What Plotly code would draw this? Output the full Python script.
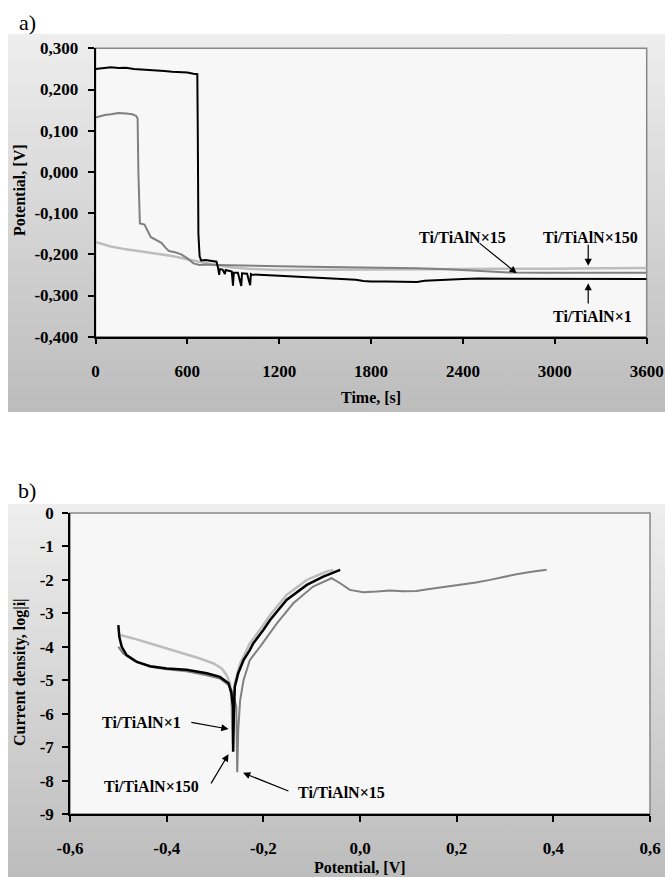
import base64
import plotly.graph_objects as go

# ---------------- Panel a: open circuit potential vs time ----------------
t_x1 = [0, 20, 60, 100, 150, 200, 250, 300, 350, 400, 450, 500, 550, 600, 640, 665,
        668, 672, 680, 690, 720, 760, 790, 800, 808, 812, 830, 845, 850, 870, 890, 898,
        903, 930, 952, 957, 962, 990, 1010, 1015, 1020, 1050, 1100, 1200, 1300, 1400,
        1500, 1600, 1700, 1750, 1800, 1900, 2000, 2100, 2150, 2200, 2300, 2400, 2500,
        2600, 2800, 3000, 3200, 3400, 3600]
e_x1 = [0.250, 0.251, 0.253, 0.254, 0.252, 0.253, 0.250, 0.249, 0.247, 0.246, 0.245,
        0.243, 0.242, 0.241, 0.238, 0.237, 0.100, -0.150, -0.205, -0.215, -0.214,
        -0.216, -0.218, -0.232, -0.250, -0.236, -0.237, -0.248, -0.238, -0.240, -0.242,
        -0.276, -0.245, -0.245, -0.277, -0.246, -0.246, -0.247, -0.275, -0.248, -0.249,
        -0.249, -0.250, -0.252, -0.254, -0.256, -0.258, -0.260, -0.262, -0.265, -0.266,
        -0.266, -0.266, -0.267, -0.264, -0.263, -0.262, -0.260, -0.259, -0.259, -0.259,
        -0.259, -0.259, -0.260, -0.260]

t_x15 = [0, 30, 60, 100, 150, 200, 240, 265, 275, 280, 285, 290, 320, 335, 350, 360,
         400, 430, 460, 480, 520, 560, 600, 640, 680, 720, 800, 1000, 1200, 1400, 1600,
         1900, 2100, 2300, 2500, 2700, 2900, 3200, 3600]
e_x15 = [0.132, 0.135, 0.138, 0.140, 0.143, 0.142, 0.140, 0.136, 0.130, 0.000, -0.080,
         -0.125, -0.128, -0.141, -0.150, -0.158, -0.165, -0.172, -0.185, -0.192, -0.195,
         -0.200, -0.210, -0.222, -0.226, -0.225, -0.226, -0.228, -0.229, -0.230, -0.231,
         -0.232, -0.234, -0.236, -0.240, -0.244, -0.245, -0.245, -0.245]

t_x150 = [0, 50, 100, 200, 300, 400, 500, 600, 700, 800, 900, 1000, 1200, 1500, 1800,
          2100, 2400, 2700, 3000, 3300, 3600]
e_x150 = [-0.170, -0.176, -0.181, -0.188, -0.193, -0.198, -0.204, -0.212, -0.220,
          -0.227, -0.232, -0.235, -0.238, -0.238, -0.237, -0.236, -0.236, -0.235,
          -0.235, -0.234, -0.233]

a_xticks = [0, 600, 1200, 1800, 2400, 3000, 3600]
a_xticktext = ["0", "600", "1200", "1800", "2400", "3000", "3600"]
a_yticks = [0.3, 0.2, 0.1, 0.0, -0.1, -0.2, -0.3, -0.4]
a_yticktext = ["0,300", "0,200", "0,100", "0,000", "-0,100", "-0,200", "-0,300", "-0,400"]

# ---------------- Panel b: polarisation curves ----------------
v_x1 = [-0.500, -0.498, -0.493, -0.483, -0.462, -0.434, -0.400, -0.359, -0.317, -0.290,
        -0.272, -0.266, -0.263, -0.2625, -0.2625, -0.261, -0.259, -0.252, -0.241,
        -0.228, -0.221, -0.200, -0.186, -0.152, -0.110, -0.076, -0.041]
l_x1 = [-3.35, -3.70, -4.00, -4.25, -4.45, -4.58, -4.65, -4.69, -4.79, -4.90, -5.09,
        -5.39, -5.79, -6.50, -7.14, -6.00, -5.19, -4.79, -4.40, -4.10, -3.90, -3.50,
        -3.20, -2.60, -2.15, -1.90, -1.70]

v_x15 = [-0.500, -0.490, -0.469, -0.434, -0.400, -0.359, -0.317, -0.290, -0.272,
         -0.262, -0.256, -0.255, -0.254, -0.252, -0.250, -0.248, -0.241, -0.235,
         -0.228, -0.207, -0.172, -0.138, -0.097, -0.059, -0.041, -0.021, 0.007, 0.035,
         0.062, 0.090, 0.117, 0.140, 0.166, 0.190, 0.214, 0.240, 0.269, 0.300, 0.324,
         0.355, 0.386]
l_x15 = [-4.00, -4.20, -4.40, -4.60, -4.67, -4.73, -4.85, -4.95, -5.14, -5.40, -5.80,
         -6.50, -7.75, -6.50, -5.80, -5.60, -5.00, -4.69, -4.40, -4.00, -3.30, -2.70,
         -2.20, -1.95, -2.10, -2.30, -2.37, -2.35, -2.32, -2.34, -2.33, -2.28, -2.23,
         -2.19, -2.15, -2.08, -2.00, -1.90, -1.83, -1.76, -1.70]

v_x150 = [-0.497, -0.469, -0.434, -0.400, -0.366, -0.331, -0.303, -0.286, -0.276,
          -0.269, -0.266, -0.2635, -0.2630, -0.2625, -0.262, -0.259, -0.253, -0.248,
          -0.238, -0.228, -0.200, -0.186, -0.166, -0.152, -0.110, -0.069, -0.055]
l_x150 = [-3.65, -3.75, -3.90, -4.05, -4.20, -4.35, -4.50, -4.65, -4.85, -5.09, -5.60,
          -6.50, -6.90, -6.00, -5.50, -5.09, -4.75, -4.50, -4.20, -3.90, -3.35, -3.05,
          -2.70, -2.45, -2.00, -1.75, -1.70]

b_xticks = [-0.6, -0.4, -0.2, 0.0, 0.2, 0.4, 0.6]
b_xticktext = ["-0,6", "-0,4", "-0,2", "0,0", "0,2", "0,4", "0,6"]
b_yticks = [0, -1, -2, -3, -4, -5, -6, -7, -8, -9]
b_yticktext = ["0", "-1", "-2", "-3", "-4", "-5", "-6", "-7", "-8", "-9"]

labels = ["Ti/TiAlN×1", "Ti/TiAlN×15", "Ti/TiAlN×150"]

BLACK = "#000000"
MID = "#808080"
LIGHT = "#bdbdbd"
FONT = "Liberation Serif, Times New Roman, serif"

fig = go.Figure()

fig.add_trace(go.Scatter(x=t_x150, y=e_x150, mode="lines", line=dict(color=LIGHT, width=2.5),
                         xaxis="x", yaxis="y", name=labels[2]))
fig.add_trace(go.Scatter(x=t_x15, y=e_x15, mode="lines", line=dict(color=MID, width=2),
                         xaxis="x", yaxis="y", name=labels[1]))
fig.add_trace(go.Scatter(x=t_x1, y=e_x1, mode="lines", line=dict(color=BLACK, width=2),
                         xaxis="x", yaxis="y", name=labels[0]))

fig.add_trace(go.Scatter(x=v_x150, y=l_x150, mode="lines", line=dict(color=LIGHT, width=2.5),
                         xaxis="x2", yaxis="y2", name=labels[2]))
fig.add_trace(go.Scatter(x=v_x15, y=l_x15, mode="lines", line=dict(color=MID, width=2),
                         xaxis="x2", yaxis="y2", name=labels[1]))
fig.add_trace(go.Scatter(x=v_x1, y=l_x1, mode="lines", line=dict(color=BLACK, width=2.5),
                         xaxis="x2", yaxis="y2", name=labels[0]))

W, H = 665, 877


def px(xp):
    return xp / W


def py(yp):
    return 1 - yp / H


tickfont = dict(family=FONT, size=17, color="black", weight="bold")
axis_common = dict(showgrid=False, zeroline=False, showline=True, linecolor="black",
                   linewidth=1.5, ticks="outside", ticklen=6, tickwidth=1.5,
                   tickcolor="black", tickfont=tickfont, automargin=False)

fig.update_layout(
    width=W, height=H, autosize=False,
    margin=dict(l=0, r=0, t=0, b=0, pad=0, autoexpand=False),
    paper_bgcolor="white", plot_bgcolor="rgba(0,0,0,0)",
    showlegend=False,
    xaxis=dict(domain=[px(95.5), px(646.7)], range=[0, 3600], tickvals=a_xticks,
               ticktext=a_xticktext, anchor="y", ticklabelstandoff=12, **axis_common),
    yaxis=dict(domain=[py(336.7), py(48.3)], range=[-0.4, 0.3], tickvals=a_yticks,
               ticktext=a_yticktext, anchor="x", ticklabelstandoff=6, **axis_common),
    xaxis2=dict(domain=[px(70), px(650)], range=[-0.6, 0.6], tickvals=b_xticks,
                ticktext=b_xticktext, anchor="y2", ticklabelstandoff=12, **axis_common),
    yaxis2=dict(domain=[py(814), py(513)], range=[-9, 0], tickvals=b_yticks,
                ticktext=b_yticktext, anchor="x2", ticklabelstandoff=5, **axis_common),
)

svg = ('<svg xmlns="http://www.w3.org/2000/svg" width="100" height="100" '
       'viewBox="0 0 100 100" preserveAspectRatio="none">'
       '<defs><linearGradient id="g" x1="0" y1="0" x2="0" y2="1">'
       '<stop offset="0" stop-color="#eeeeee"/><stop offset="1" stop-color="#bcbcbc"/>'
       '</linearGradient></defs><rect width="100" height="100" fill="url(#g)"/></svg>')
src = "data:image/svg+xml;base64," + base64.b64encode(svg.encode()).decode()
for top, bottom in [(34, 412), (504, 877)]:
    fig.add_layout_image(dict(source=src, xref="paper", yref="paper", x=px(8), y=py(top),
                              sizex=1 - px(8), sizey=(bottom - top) / H, xanchor="left",
                              yanchor="top", sizing="stretch", layer="below"))

for xr, yr in [("x", "y"), ("x2", "y2")]:
    fig.add_shape(type="rect", xref=xr + " domain", yref=yr + " domain", x0=0, x1=1, y0=0, y1=1,
                  fillcolor="#f7f7f7", line=dict(color="#888888", width=1.5), layer="below")

title_font = dict(family=FONT, size=16, color="black")
lab_font = dict(family=FONT, size=16, color="black")

fig.add_annotation(text="<b>Time, [s]</b>", xref="paper", yref="paper", x=px(371), y=py(397),
                   showarrow=False, font=title_font, xanchor="center", yanchor="middle")
fig.add_annotation(text="<b>Potential, [V]</b>", xref="paper", yref="paper", x=px(19), y=py(190),
                   showarrow=False, font=title_font, textangle=-90, xanchor="center", yanchor="middle")
fig.add_annotation(text="<b>Potential, [V]</b>", xref="paper", yref="paper", x=px(360), y=py(867),
                   showarrow=False, font=title_font, xanchor="center", yanchor="middle")
fig.add_annotation(text="<b>Current density, log|i|</b>", xref="paper", yref="paper", x=px(20),
                   y=py(672), showarrow=False, font=title_font, textangle=-90,
                   xanchor="center", yanchor="middle")

fig.add_annotation(text="a)", xref="paper", yref="paper", x=px(27), y=py(22), showarrow=False,
                   font=dict(family=FONT, size=22, color="black"), xanchor="center", yanchor="middle")
fig.add_annotation(text="b)", xref="paper", yref="paper", x=px(27), y=py(490), showarrow=False,
                   font=dict(family=FONT, size=22, color="black"), xanchor="center", yanchor="middle")

text_pos = [
    ("x", "y", labels[1], 2400, -0.158),
    ("x", "y", labels[2], 3236, -0.158),
    ("x", "y", labels[0], 3243, -0.352),
    ("x2", "y2", labels[0], -0.453, -6.25),
    ("x2", "y2", labels[2], -0.432, -8.19),
    ("x2", "y2", labels[1], -0.039, -8.37),
]
for xr, yr, txt, xv, yv in text_pos:
    fig.add_annotation(text="<b>" + txt + "</b>", xref=xr, yref=yr, x=xv, y=yv,
                       showarrow=False, font=lab_font, xanchor="center", yanchor="middle")

arrows = [
    ("x", "y", 2498, -0.170, 2751, -0.246),
    ("x", "y", 3218, -0.173, 3218, -0.228),
    ("x", "y", 3218, -0.323, 3218, -0.270),
    ("x2", "y2", -0.352, -6.25, -0.272, -6.46),
    ("x2", "y2", -0.310, -8.13, -0.272, -7.21),
    ("x2", "y2", -0.145, -8.33, -0.242, -7.77),
]
for xr, yr, x0, y0, x1, y1 in arrows:
    fig.add_annotation(text="", xref=xr, yref=yr, x=x1, y=y1, axref=xr, ayref=yr, ax=x0, ay=y0,
                       showarrow=True, arrowhead=2, arrowsize=1.2, arrowwidth=1.2,
                       arrowcolor="black")

fig.write_html("out.html")
